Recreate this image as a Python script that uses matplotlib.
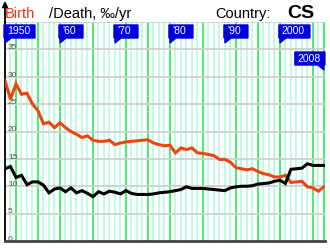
import numpy as np
import matplotlib.pyplot as plt
from matplotlib.patches import Polygon
from matplotlib.transforms import IdentityTransform

plt.rcParams['font.family'] = ['Liberation Sans', 'DejaVu Sans']

# Birth / death rates per 1000 per year
years = np.arange(1950, 2009)
birth = [29.3, 25.9, 28.7, 26.8, 27.0, 25.0, 23.8, 21.4, 21.7, 20.7,
         21.6, 20.7, 20.0, 19.5, 18.9, 19.2, 18.4, 18.2, 18.2, 18.4,
         17.6, 17.9, 18.1, 18.2, 18.3, 18.4, 18.5, 17.9, 17.6, 17.4,
         17.5, 16.1, 17.0, 16.7, 17.0, 16.1, 16.0, 15.8, 15.6, 14.9,
         14.9, 14.4, 13.4, 13.2, 13.0, 13.2, 12.7, 12.3, 12.1, 11.7,
         11.7, 12.0, 10.7, 10.8, 10.9, 9.9, 9.7, 9.1, 9.9]
death = [13.2, 13.6, 11.6, 12.0, 10.3, 10.8, 10.8, 10.2, 8.8, 9.5,
         9.7, 9.0, 9.7, 8.8, 9.2, 8.7, 8.1, 9.0, 8.6, 9.1,
         8.9, 8.6, 9.2, 8.7, 8.5, 8.5, 8.5, 8.6, 8.8, 8.9,
         9.0, 9.2, 9.4, 9.9, 9.6, 9.6, 9.6, 9.5, 9.4, 9.3,
         9.2, 9.7, 9.9, 10.0, 10.0, 10.1, 10.4, 10.5, 10.6, 10.9,
         11.1, 10.5, 13.1, 13.2, 13.3, 14.1, 13.8, 13.8, 13.8]

green_years = [1952, 1956, 1960, 1966, 1972, 1976, 1980, 1986, 1992, 1996, 2000, 2006, 2008]
flag_years = [1950, 1960, 1970, 1980, 1990, 2000]
flag_labels = ['1950', "'60", "'70", "'80", "'90", '2000']
last_year, last_label = 2008, '2008'
y_ticks = [0, 5, 10, 15, 20, 25, 30, 35]

W, H = 330, 248
fig = plt.figure(figsize=(W / 100, H / 100), dpi=100)
ax = fig.add_axes([5 / W, 7 / H, 320 / W, 219 / H])
ax.set_xlim(1950, 2008.2)
ax.set_ylim(0, 40)

# background grid
for yr in years:
    ax.axvline(yr, color='#b3f7e0', lw=1.1, zorder=1)
for yr in green_years:
    ax.axvline(yr, color='#22ee44', lw=1.1, zorder=1.5)
for v in range(5, 41, 5):
    ax.axhline(v, color='#cccccc', lw=1.2, zorder=2)

ax.plot(years, birth, color='#ee4411', lw=2.2, zorder=4, solid_joinstyle='miter')
ax.plot(years, death, color='black', lw=2.2, zorder=4, solid_joinstyle='miter')

for v in y_ticks:
    ax.text(1950.55, v + 0.3, str(v), fontsize=6, color='#555555', va='center', zorder=3)

ax.set_xticks([])
ax.set_yticks([])
for s in ['top', 'right']:
    ax.spines[s].set_visible(False)
ax.spines['left'].set_linewidth(1.3)
ax.spines['bottom'].set_color('#444444')
ax.spines['bottom'].set_linewidth(2)

# y axis arrow
ax.annotate('', xy=(5 / W, 1 - 1 / H), xycoords='figure fraction',
            xytext=(5 / W, 1 - 24 / H),
            arrowprops=dict(arrowstyle='-|>', color='black', lw=1.3,
                            mutation_scale=8, shrinkA=0, shrinkB=0))

# decade flags, drawn in pixel space
ident = IdentityTransform()
top = H - 25
for yr, lab in zip(flag_years, flag_labels):
    x0 = ax.transData.transform((yr, 0))[0]
    w = 31 if len(lab) == 4 else 24
    rect = [(x0 - 1, top), (x0 - 1 + w, top), (x0 - 1 + w, top - 13), (x0 + 6, top - 13),
            (x0, top - 18), (x0, top - 13), (x0 - 1, top - 13)]
    fig.patches.append(Polygon(rect, closed=True, transform=ident, color='#0000dd',
                               figure=fig, zorder=5))
    fig.text((x0 + 2) / W, (top - 6.5) / H, lab, color='white', fontsize=7.5,
             va='center', zorder=6)

x1 = ax.transData.transform((last_year, 0))[0]
top2 = H - 52
rect = [(x1 + 1, top2), (x1 - 29, top2), (x1 - 29, top2 - 13), (x1 - 6, top2 - 13),
        (x1, top2 - 18), (x1, top2 - 13), (x1 + 1, top2 - 13)]
fig.patches.append(Polygon(rect, closed=True, transform=ident, color='#0000dd',
                           figure=fig, zorder=5))
fig.text((x1 - 26) / W, (top2 - 6.5) / H, last_label, color='white', fontsize=7.5,
         va='center', zorder=6)

# heading
fig.text(5 / W, 1 - 18 / H, 'Birth', color='#ee3311', fontsize=10.5)
fig.text(49 / W, 1 - 18 / H, '/Death, ‰/yr', color='black', fontsize=10.5)
fig.text(215 / W, 1 - 18 / H, 'Country:', color='black', fontsize=10.5)
fig.text(287 / W, 1 - 18 / H, 'CS', color='black', fontsize=14, fontweight='bold')

fig.savefig('out.png', dpi=100)
